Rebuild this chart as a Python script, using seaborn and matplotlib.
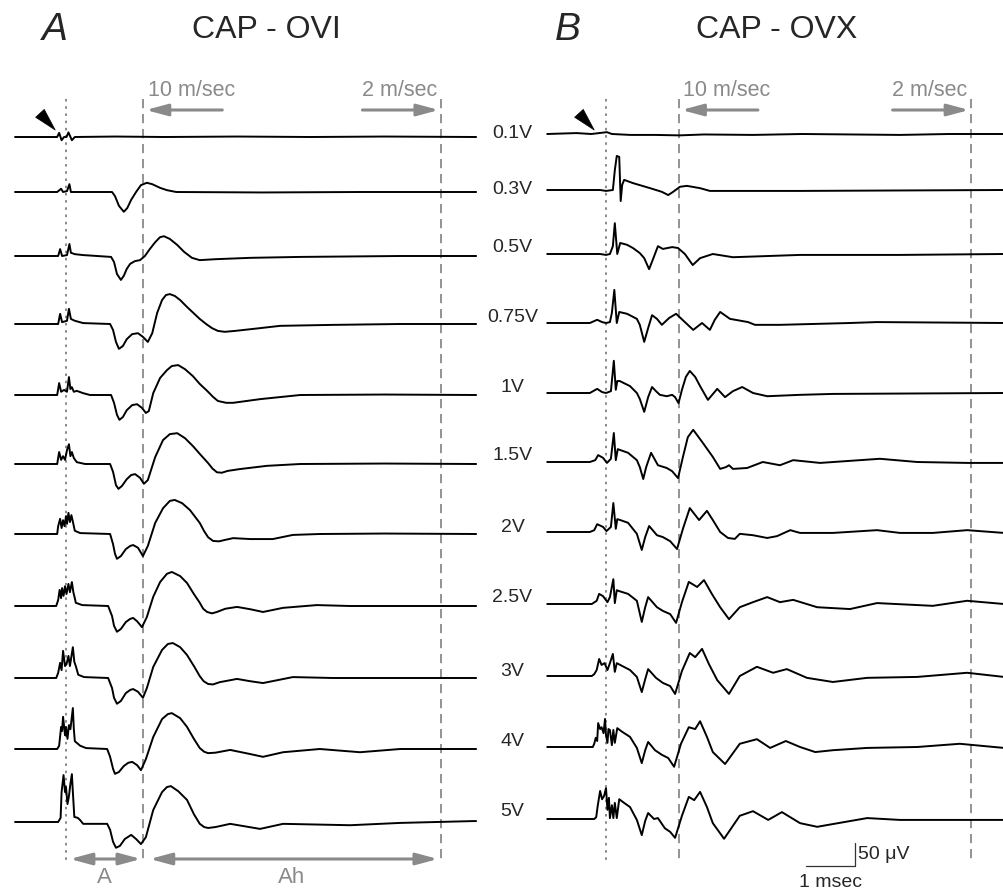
import numpy as np
import pandas as pd
import matplotlib
matplotlib.use("Agg")
import matplotlib.pyplot as plt
import seaborn as sns

sns.set_theme(style="white")
plt.rcParams["font.family"] = ["Liberation Sans", "DejaVu Sans"]

# ---------------------------------------------------------------- data
stim_labels = ["0.1V", "0.3V", "0.5V", "0.75V", "1V", "1.5V",
               "2V", "2.5V", "3V", "4V", "5V"]

# conduction-velocity latencies (ms after stimulus)
ovi_fast_ms, ovi_slow_ms = 1.57, 7.65     # 10 m/sec, 2 m/sec
ovx_fast_ms, ovx_slow_ms = 1.48, 7.45

# --- CAP - OVI : time (ms) / amplitude (uV)
ovi_01_t = [-1.04, -0.18, -0.14, -0.09, -0.04, 0.01, 0.05, 0.12, 0.18, 1.0, 2.0, 3.5, 5.0, 6.5, 8.37]
ovi_01_v = [0, 0, 9, -7, 0, 0, 10, -7, 0, 1, 0, 1, 0, 1, 0]

ovi_03_t = [-1.04, -0.18, -0.10, -0.06, 0.02, 0.07, 0.10, 0.94, 1.00, 1.08, 1.18, 1.25, 1.33, 1.43,
            1.53, 1.65, 1.76, 1.92, 2.06, 2.25, 4.0, 6.0, 8.37]
ovi_03_v = [0, 0, 7, 0, 2, 17, 0, 0, -9, -30, -43, -35, -17, 0, 15, 20, 17, 9, 4, 0, -1, 0, 0]

ovi_05_t = [-1.04, -0.16, -0.12, -0.08, 0.02, 0.07, 0.10, 0.18, 0.35, 0.92, 0.98, 1.04, 1.12, 1.18,
            1.24, 1.31, 1.41, 1.51, 1.61, 1.71, 1.82, 1.92, 2.00, 2.12, 2.27, 2.41, 2.57, 2.73,
            3.04, 3.76, 4.78, 6.82, 8.37]
ovi_05_v = [0, 0, 15, 0, 2, 26, 7, 4, 2, -2, -13, -39, -52, -43, -28, -17, -11, -9, 0, 15, 30, 41,
            43, 37, 24, 9, -4, -9, -7, -4, -2, 0, 0]

ovi_075_t = [-1.04, -0.16, -0.12, -0.08, 0.02, 0.06, 0.10, 0.18, 0.35, 0.90, 0.96, 1.02, 1.08, 1.16,
             1.24, 1.35, 1.47, 1.57, 1.67, 1.76, 1.86, 1.96, 2.04, 2.12, 2.22, 2.33, 2.47, 2.60,
             2.73, 2.86, 2.98, 3.10, 3.24, 3.45, 3.96, 4.37, 5.39, 6.82, 8.37]
ovi_075_v = [0, 0, 22, 4, 7, 33, 11, 7, 2, 0, -13, -39, -54, -48, -33, -22, -20, -28, -39, -20, 24,
             52, 63, 65, 61, 52, 37, 24, 11, 0, -9, -15, -17, -15, -9, -4, -2, 0, 0]

ovi_1_t = [-1.04, -0.18, -0.14, -0.10, -0.04, 0.02, 0.06, 0.09, 0.12, 0.16, 0.22, 0.35, 0.49, 0.92,
           0.98, 1.04, 1.09, 1.16, 1.24, 1.35, 1.45, 1.55, 1.63, 1.69, 1.78, 1.92, 2.06, 2.16, 2.29,
           2.43, 2.59, 2.73, 2.88, 3.00, 3.10, 3.27, 3.41, 3.96, 4.78, 6.5, 8.37]
ovi_1_v = [0, 0, 26, 7, 11, 7, 39, 13, 17, 7, 9, 4, 0, 0, -17, -43, -54, -48, -33, -22, -20, -28,
           -39, -35, 4, 37, 54, 63, 65, 56, 41, 24, 9, -4, -13, -17, -17, -9, 0, 1, 0]

ovi_15_t = [-1.04, -0.18, -0.14, -0.10, -0.06, -0.02, 0.02, 0.06, 0.09, 0.12, 0.16, 0.22, 0.39, 0.90,
            0.96, 1.02, 1.07, 1.14, 1.24, 1.33, 1.41, 1.51, 1.59, 1.67, 1.82, 1.98, 2.12, 2.27,
            2.43, 2.59, 2.73, 2.90, 2.99, 3.08, 3.18, 3.30, 3.55, 4.10, 4.78, 6.5, 8.37]
ovi_15_v = [0, 0, 26, 9, 17, 9, 30, 43, 17, 26, 13, 4, 0, 0, -17, -46, -54, -48, -33, -24, -22, -30,
            -43, -35, 15, 52, 65, 67, 56, 39, 22, 2, -10, -18, -19, -15, -11, -4, 0, 1, 0]

ovi_2_t = [-1.04, -0.18, -0.16, -0.12, -0.09, -0.06, -0.03, 0.00, 0.02, 0.05, 0.08, 0.11, 0.15, 0.18,
           0.29, 0.90, 0.96, 1.00, 1.04, 1.12, 1.22, 1.31, 1.37, 1.47, 1.57, 1.67, 1.82, 1.98, 2.12,
           2.22, 2.37, 2.53, 2.73, 2.82, 2.90, 3.00, 3.12, 3.24, 3.41, 3.76, 4.22, 4.63, 5.18, 6.5,
           8.37]
ovi_2_v = [0, 0, 17, 33, 13, 30, 17, 39, 22, 46, 26, 41, 22, 7, 2, 0, -22, -43, -54, -48, -33, -26,
           -24, -30, -48, -26, 24, 56, 72, 74, 67, 52, 24, 6, -7, -15, -16, -13, -9, -11, -11, -2, 0,
           1, 0]

ovi_25_t = [-1.04, -0.20, -0.16, -0.13, -0.10, -0.08, -0.05, -0.02, 0.01, 0.05, 0.08, 0.12, 0.15,
            0.18, 0.20, 0.33, 0.86, 0.94, 0.98, 1.04, 1.12, 1.22, 1.31, 1.37, 1.45, 1.55, 1.65, 1.78,
            1.92, 2.06, 2.16, 2.33, 2.47, 2.61, 2.73, 2.80, 2.88, 2.98, 3.08, 3.25, 3.49, 3.76, 4.02,
            4.43, 5.12, 5.80, 8.37]
ovi_25_v = [0, 0, 13, 35, 17, 39, 22, 43, 26, 48, 30, 52, 30, 17, 7, 2, 0, -22, -43, -56, -50, -35,
            -28, -26, -33, -46, -24, 20, 52, 70, 74, 65, 50, 26, 7, -6, -13, -16, -13, -6, -2, -7,
            -13, -4, 2, 0, 0]

ovi_3_t = [-1.04, -0.20, -0.16, -0.12, -0.09, -0.06, -0.02, 0.01, 0.05, 0.08, 0.14, 0.17, 0.20, 0.25,
           0.37, 0.86, 0.94, 0.98, 1.04, 1.12, 1.22, 1.31, 1.37, 1.47, 1.57, 1.65, 1.78, 1.96, 2.08,
           2.18, 2.33, 2.47, 2.61, 2.73, 2.81, 2.90, 3.00, 3.14, 3.49, 3.76, 4.02, 4.63, 5.45, 8.37]
ovi_3_v = [0, 0, 11, 33, 17, 59, 26, 30, 48, 26, 67, 35, 26, 7, 2, 0, -22, -43, -56, -50, -33, -26,
           -24, -30, -43, -22, 24, 61, 74, 76, 67, 50, 26, 4, -7, -13, -14, -9, -2, -7, -11, 2, 0, 0]

ovi_4_t = [-1.04, -0.18, -0.14, -0.10, -0.08, -0.06, -0.02, 0.00, 0.03, 0.06, 0.09, 0.14, 0.16, 0.18,
           0.29, 0.41, 0.84, 0.90, 0.96, 1.00, 1.08, 1.18, 1.27, 1.35, 1.45, 1.53, 1.63, 1.78, 1.96,
           2.08, 2.16, 2.33, 2.47, 2.61, 2.73, 2.82, 2.90, 3.05, 3.35, 3.76, 4.02, 4.43, 5.18, 6.00,
           6.82, 8.37]
ovi_4_v = [0, 0, 7, 48, 39, 70, 30, 48, 22, 52, 43, 89, 43, 17, 7, 2, 0, -17, -43, -54, -50, -37, -30,
           -28, -35, -46, -22, 26, 65, 76, 78, 67, 48, 22, 2, -6, -9, -8, -2, -11, -17, -7, 0, -7, 0,
           0]

ovi_5_t = [-1.04, -0.16, -0.11, -0.09, -0.05, -0.02, 0.00, 0.03, 0.06, 0.09, 0.12, 0.14, 0.17, 0.24,
           0.29, 0.35, 0.84, 0.90, 0.96, 1.02, 1.10, 1.20, 1.33, 1.43, 1.53, 1.63, 1.78, 1.96, 2.06,
           2.14, 2.29, 2.47, 2.61, 2.73, 2.82, 2.90, 3.05, 3.35, 3.96, 4.43, 5.80, 6.82, 8.31, 8.37]
ovi_5_v = [0, 0, 9, 65, 102, 65, 76, 39, 56, 83, 104, 65, 11, 9, 4, -4, -4, -17, -43, -56, -52, -37,
           -28, -37, -48, -33, 26, 65, 76, 78, 67, 48, 17, -4, -11, -13, -11, -4, -15, -4, -7, -2, 2,
           2]

# --- CAP - OVX : time (ms) / amplitude (uV)
ovx_01_t = [-1.20, -0.6, -0.3, 0.02, 0.12, 0.5, 1.0, 1.5, 2.0, 3.0, 4.0, 5.0, 6.0, 7.0, 8.12]
ovx_01_v = [0, 2, 0, 4, 0, -2, -2, -3, -1, -2, 0, -1, -2, 0, 0]

ovx_03_t = [-1.20, -0.12, 0.00, 0.14, 0.18, 0.22, 0.27, 0.30, 0.33, 0.37, 0.55, 0.90, 1.14, 1.27,
            1.37, 1.51, 1.65, 1.92, 2.12, 3.96, 8.12]
ovx_03_v = [0, 0, -2, 0, 43, 74, 72, -24, 11, 22, 15, 4, -4, -11, -4, 7, 9, 4, -2, -2, 0]

ovx_05_t = [-1.20, -0.12, 0.00, 0.08, 0.14, 0.18, 0.23, 0.29, 0.43, 0.55, 0.69, 0.78, 0.88, 0.96,
            1.06, 1.16, 1.35, 1.47, 1.61, 1.77, 1.92, 2.18, 2.59, 3.96, 6.00, 8.12]
ovx_05_v = [0, 0, -2, 0, 17, 67, 0, 24, 20, 13, 2, -9, -33, -11, 17, 11, 15, 13, 0, -24, -9, 0, -7,
            -2, -2, 0]

ovx_075_t = [-1.20, -0.33, -0.18, -0.08, 0.00, 0.08, 0.12, 0.17, 0.22, 0.27, 0.43, 0.63, 0.69, 0.78,
             0.86, 0.94, 1.04, 1.14, 1.29, 1.43, 1.61, 1.78, 1.96, 2.12, 2.22, 2.33, 2.53, 2.90,
             3.04, 3.55, 4.98, 5.53, 8.12]
ovx_075_v = [0, 0, 7, 2, 0, 2, 22, 72, 0, 24, 20, 9, -4, -41, -11, 17, 9, -4, 11, 20, 2, -15, 0, -15,
             7, 24, 9, 2, -4, -4, 0, 2, 0]

ovx_1_t = [-1.20, -0.33, -0.18, -0.08, 0.00, 0.10, 0.16, 0.20, 0.23, 0.28, 0.49, 0.63, 0.69, 0.78,
           0.86, 0.94, 1.02, 1.10, 1.24, 1.35, 1.41, 1.48, 1.55, 1.63, 1.71, 1.82, 1.92, 2.08, 2.27,
           2.43, 2.59, 2.78, 3.00, 3.29, 3.96, 4.63, 8.12]
ovx_1_v = [0, 0, 9, 2, 0, 4, 70, 7, 26, 26, 15, 0, -13, -41, -9, 13, 4, -4, -7, -4, -9, -22, 7, 35,
           48, 35, 15, -15, 9, -9, 4, 13, 0, -7, -4, -2, 0]

ovx_15_t = [-1.20, -0.33, -0.22, -0.16, -0.06, 0.02, 0.10, 0.16, 0.20, 0.24, 0.29, 0.45, 0.63, 0.69,
            0.76, 0.82, 0.92, 1.06, 1.24, 1.35, 1.47, 1.57, 1.67, 1.78, 1.98, 2.18, 2.33, 2.45,
            2.51, 2.59, 2.88, 3.20, 3.55, 3.82, 4.37, 5.59, 6.35, 7.37, 8.12]
ovx_15_v = [0, 0, 4, 15, 9, -2, 7, 63, 4, 28, 26, 20, 4, -11, -37, -11, 20, -7, -13, -20, -35, 11,
            54, 70, 41, 11, -15, -11, -7, -15, -13, 0, -7, 4, -2, 7, 0, -2, -2]

ovx_2_t = [-1.20, -0.33, -0.24, -0.18, -0.06, 0.01, 0.10, 0.15, 0.20, 0.23, 0.29, 0.45, 0.63, 0.73,
           0.80, 0.88, 1.04, 1.16, 1.31, 1.45, 1.57, 1.71, 1.90, 2.06, 2.18, 2.33, 2.49, 2.63, 2.73,
           3.00, 3.29, 3.49, 3.76, 3.96, 4.63, 5.53, 6.00, 6.67, 7.37, 8.12]
ovx_2_v = [0, 0, 4, 17, 11, 2, 11, 63, 7, 28, 26, 20, -4, -39, -11, 13, -7, -11, -20, -37, 7, 52, 26,
           46, 26, 0, -13, -15, -4, -7, -13, -9, 4, -2, -2, 4, -2, -2, 4, -2]

ovx_25_t = [-1.20, -0.29, -0.19, -0.14, -0.06, 0.03, 0.08, 0.15, 0.18, 0.22, 0.27, 0.45, 0.63, 0.73,
            0.80, 0.86, 1.04, 1.16, 1.31, 1.43, 1.55, 1.69, 1.86, 2.00, 2.16, 2.33, 2.51, 2.73,
            3.00, 3.29, 3.55, 3.82, 4.31, 4.98, 5.53, 6.67, 7.37, 8.12]
ovx_25_v = [0, 0, 7, 22, 17, 4, 15, 54, 2, 30, 28, 22, 7, -39, -7, 15, -7, -15, -22, -41, 4, 48, 37,
            52, 22, -7, -33, -7, 4, 15, 4, 9, -7, -11, 2, -4, 7, 0]

ovx_3_t = [-1.20, -0.29, -0.24, -0.19, -0.14, -0.09, -0.03, 0.03, 0.08, 0.14, 0.18, 0.22, 0.29, 0.49,
           0.63, 0.73, 0.80, 0.86, 1.02, 1.16, 1.31, 1.41, 1.55, 1.71, 1.82, 1.96, 2.10, 2.27, 2.51,
           2.73, 3.08, 3.41, 3.69, 4.10, 4.63, 5.33, 6.35, 7.37, 8.12]
ovx_3_v = [0, 0, 4, 13, 37, 24, 28, 13, 28, 48, 9, 28, 24, 13, -2, -35, -7, 15, -4, -15, -22, -39, 11,
           50, 41, 59, 26, -9, -39, 0, 20, 7, 15, -4, -13, -4, -2, 7, -2]

ovx_4_t = [-1.20, -0.27, -0.24, -0.21, -0.18, -0.16, -0.12, -0.09, -0.05, -0.02, 0.00, 0.03, 0.05,
           0.08, 0.12, 0.15, 0.18, 0.23, 0.33, 0.49, 0.63, 0.73, 0.80, 0.86, 1.00, 1.14, 1.27, 1.39,
           1.53, 1.69, 1.82, 1.92, 2.06, 2.18, 2.43, 2.73, 3.08, 3.35, 3.67, 3.96, 4.27, 4.63, 5.33,
           6.35, 7.22, 8.12]
ovx_4_v = [0, 0, 7, 20, 13, 52, 39, 43, 30, 61, 26, 9, 39, 37, 4, 37, 9, 41, 33, 22, -2, -35, -7, 11,
           -7, -17, -24, -43, 7, 43, 39, 56, 22, -11, -37, 7, 17, -2, 13, 0, -11, -7, -2, 0, 7, -2]

ovx_5_t = [-1.20, -0.24, -0.20, -0.17, -0.12, -0.08, -0.04, 0.00, 0.03, 0.06, 0.08, 0.12, 0.15, 0.18,
           0.22, 0.27, 0.37, 0.49, 0.63, 0.73, 0.80, 0.86, 0.98, 1.06, 1.20, 1.31, 1.41, 1.55, 1.69,
           1.80, 1.92, 2.06, 2.18, 2.41, 2.73, 3.00, 3.31, 3.59, 3.96, 4.31, 4.63, 5.33, 6.00, 7.37,
           8.12]
ovx_5_v = [0, 0, 4, 28, 61, 43, 50, 67, 20, 46, 2, 30, 2, 35, 2, 43, 35, 26, -2, -35, -4, 13, 0, 2,
           -20, -28, -41, 7, 48, 41, 59, 26, -9, -43, 7, 17, -2, 15, -9, -17, -11, 2, -2, -2, -2]

ovi_times = [ovi_01_t, ovi_03_t, ovi_05_t, ovi_075_t, ovi_1_t, ovi_15_t, ovi_2_t, ovi_25_t, ovi_3_t, ovi_4_t, ovi_5_t]
ovi_values = [ovi_01_v, ovi_03_v, ovi_05_v, ovi_075_v, ovi_1_v, ovi_15_v, ovi_2_v, ovi_25_v, ovi_3_v, ovi_4_v, ovi_5_v]
ovx_times = [ovx_01_t, ovx_03_t, ovx_05_t, ovx_075_t, ovx_1_t, ovx_15_t, ovx_2_t, ovx_25_t, ovx_3_t, ovx_4_t, ovx_5_t]
ovx_values = [ovx_01_v, ovx_03_v, ovx_05_v, ovx_075_v, ovx_1_v, ovx_15_v, ovx_2_v, ovx_25_v, ovx_3_v, ovx_4_v, ovx_5_v]

# ---------------------------------------------------------------- layout
W, H = 1004, 890
PX_PER_MS = 49.0      # horizontal scale
PX_PER_UV = 0.46      # vertical scale (50 uV ~ 23 px)
row_px_ovi = [137, 192, 256, 324, 395, 464, 534, 606, 678, 749, 822]
row_px_ovx = [134, 190, 254, 323, 393, 462, 532, 604, 676, 747, 819]
label_px = [133, 189, 248, 318, 388, 456, 528, 598, 671, 741, 812]

GRAY = "#8a8a8a"
LINE_GRAY = "#808080"


def ypx(p):
    """vertical pixel position (from top) -> axis units"""
    return -p / PX_PER_UV


def trace_frame(times, values, rows):
    parts = []
    for name, t, v, row in zip(stim_labels, times, values, rows):
        v = np.asarray(v, dtype=float)
        parts.append(pd.DataFrame({"stim": name, "t": t, "uv": v, "y": v + ypx(row)}))
    return pd.concat(parts, ignore_index=True)


fig = plt.figure(figsize=(W / 100, H / 100), dpi=100)
ax_a = fig.add_axes([0, 0, 500 / W, 1])
ax_b = fig.add_axes([500 / W, 0, 504 / W, 1])

# stimulus (t = 0) pixel column in each panel
x0_a, x0_b = 66, 606
ax_a.set_xlim(-x0_a / PX_PER_MS, (500 - x0_a) / PX_PER_MS)
ax_b.set_xlim((500 - x0_b) / PX_PER_MS, (W - x0_b) / PX_PER_MS)

panels = [
    (ax_a, trace_frame(ovi_times, ovi_values, row_px_ovi), ovi_fast_ms, ovi_slow_ms),
    (ax_b, trace_frame(ovx_times, ovx_values, row_px_ovx), ovx_fast_ms, ovx_slow_ms),
]

for ax, df, fast, slow in panels:
    ax.set_ylim(ypx(H), 0)
    ax.set_axis_off()
    ax.patch.set_alpha(0)

    # latency markers
    ax.plot([0, 0], [ypx(99), ypx(860)], color=LINE_GRAY, lw=1.3,
            ls=(0, (1.4, 2.6)), zorder=1)
    for t_line in (fast, slow):
        ax.plot([t_line, t_line], [ypx(99), ypx(860)], color=LINE_GRAY, lw=1.2,
                ls=(0, (5.5, 3.5)), zorder=1)

    sns.lineplot(data=df, x="t", y="y", units="stim", estimator=None, sort=False,
                 color="black", lw=1.4, legend=False, ax=ax, zorder=3,
                 solid_joinstyle="round", solid_capstyle="round")

    # conduction velocity arrows and labels
    arrow_kw = dict(arrowstyle="-|>,head_length=1.3,head_width=0.35", color=GRAY,
                    lw=2.2, shrinkA=0, shrinkB=0, mutation_scale=10)
    ax.annotate("", xy=(fast + 0.06, ypx(110)), xytext=(fast + 1.62, ypx(110)),
                arrowprops=arrow_kw)
    ax.annotate("", xy=(slow - 0.04, ypx(110)), xytext=(slow - 1.6, ypx(110)),
                arrowprops=arrow_kw)
    ax.text(fast + 0.1, ypx(90), "10 m/sec", color=GRAY, fontsize=15.5,
            ha="left", va="center")
    ax.text(slow - 0.08, ypx(90), "2 m/sec", color=GRAY, fontsize=15.5,
            ha="right", va="center")

# stimulus arrowheads
for ax, tip in ((ax_a, -0.22), (ax_b, -0.24)):
    ax.annotate("", xy=(tip, ypx(130)), xytext=(-11, 12), textcoords="offset points",
                arrowprops=dict(arrowstyle="wedge,tail_width=0.7,shrink_factor=0.5",
                                fc="black", ec="black", lw=0.5, shrinkA=0, shrinkB=0))

# A / Ah intervals under panel A
dbl_kw = dict(arrowstyle="<|-|>,head_length=1.3,head_width=0.35", color=GRAY,
              lw=2.2, shrinkA=0, shrinkB=0, mutation_scale=10)
ax_a.annotate("", xy=(0.08, ypx(859)), xytext=(ovi_fast_ms - 0.04, ypx(859)), arrowprops=dbl_kw)
ax_a.annotate("", xy=(ovi_fast_ms + 0.14, ypx(859)), xytext=(ovi_slow_ms - 0.06, ypx(859)),
              arrowprops=dbl_kw)
ax_a.text(ovi_fast_ms / 2, ypx(877), "A", color=GRAY, fontsize=16, ha="center", va="center")
ax_a.text((ovi_fast_ms + ovi_slow_ms) / 2, ypx(877), "Ah", color=GRAY, fontsize=16,
          ha="center", va="center")

# scale bar: 1 msec x 50 uV
sb_t = 4.08
sb_y = ypx(866)
ax_b.plot([sb_t, sb_t + 1.0, sb_t + 1.0], [sb_y, sb_y, sb_y + 50], color="#333333", lw=0.9)
ax_b.text(sb_t + 1.06, sb_y + 26, "50 μV", fontsize=14, ha="left", va="center")
ax_b.text(sb_t + 0.5, ypx(882), "1 msec", fontsize=14, ha="center", va="center")

# stimulus intensity labels
for lab, p in zip(stim_labels, label_px):
    fig.text(512.5 / W, 1 - p / H, lab, fontsize=14, ha="center", va="center")

# panel titles
fig.text(42 / W, 1 - 30 / H, "A", fontsize=28, style="italic", ha="left", va="center")
fig.text(266 / W, 1 - 30 / H, "CAP - OVI", fontsize=23, ha="center", va="center")
fig.text(555 / W, 1 - 30 / H, "B", fontsize=28, style="italic", ha="left", va="center")
fig.text(777 / W, 1 - 30 / H, "CAP - OVX", fontsize=23, ha="center", va="center")

fig.savefig("out.png", dpi=100, facecolor="white")
